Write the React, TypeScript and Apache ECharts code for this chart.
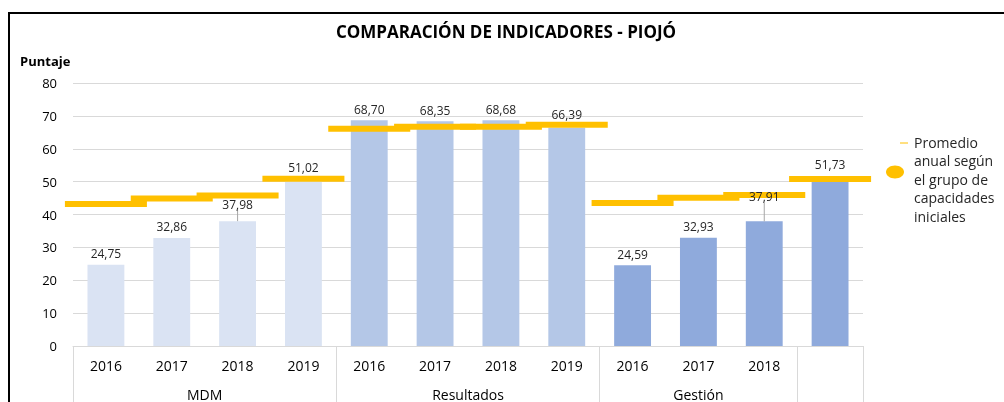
import { useEffect, useRef } from "react";
import * as echarts from "echarts";

const years = ["2016", "2017", "2018", "2019", "2016", "2017", "2018", "2019", "2016", "2017", "2018", ""];
const groupNames = ["MDM", "Resultados", "Gestión"];
const groupSizes = [4, 4, 3, 1];
const scores = [24.75, 32.86, 37.98, 51.02, 68.7, 68.35, 68.68, 66.39, 24.59, 32.93, 37.91, 51.73];
const groupAverage = [43.2, 44.9, 45.8, 50.9, 66.1, 66.7, 66.7, 67.3, 43.5, 45.1, 45.9, 50.8];
const groupColors = ["#DAE3F3", "#B4C7E7", "#8FAADC", "#8FAADC"];
const yTicks = [0, 10, 20, 30, 40, 50, 60, 70, 80];

const FONT = "'Open Sans', 'Noto Sans', sans-serif";

export default function App() {
  const ref = useRef<HTMLDivElement>(null);

  useEffect(() => {
    if (!ref.current) return;
    const chart = echarts.init(ref.current, undefined, { renderer: "svg" });

    const boundaries: number[] = [];
    const centres: number[] = [];
    let acc = 0;
    groupSizes.forEach((s) => {
      boundaries.push(acc);
      centres.push(acc + s / 2);
      acc += s;
    });
    const colorOf = (i: number) => {
      let a = 0;
      for (let g = 0; g < groupSizes.length; g++) {
        if (i < a + groupSizes[g]) return groupColors[g];
        a += groupSizes[g];
      }
      return groupColors[groupColors.length - 1];
    };
    const fmt = (v: number) => v.toFixed(2).replace(".", ",");
    const leaderIdx = [2, 10];

    chart.setOption({
      animation: false,
      textStyle: { fontFamily: FONT },
      title: {
        text: "COMPARACIÓN DE INDICADORES - PIOJÓ",
        left: "center",
        top: 15,
        padding: [0, 0, 0, 8],
        textStyle: { fontFamily: FONT, fontSize: 17, fontWeight: "bold", color: "#000" },
      },
      grid: { left: 65, right: 141, top: 75, bottom: 56 },
      xAxis: [
        {
          type: "category",
          data: years,
          axisLine: { lineStyle: { color: "#D9D9D9" } },
          axisTick: {
            show: true,
            interval: (index: number) => boundaries.includes(index),
            length: 70,
            lineStyle: { color: "#D9D9D9" },
          },
          axisLabel: { interval: 0, margin: 12, fontSize: 14, color: "#000", fontFamily: FONT },
        },
        {
          type: "value",
          position: "bottom",
          min: 0,
          max: 12,
          interval: 0.5,
          axisLine: { show: false },
          axisTick: { show: false },
          splitLine: { show: false },
          axisLabel: {
            margin: 41,
            fontSize: 14,
            color: "#000",
            fontFamily: FONT,
            showMinLabel: true,
            showMaxLabel: true,
            formatter: (v: number) => {
              const k = centres.findIndex((c) => Math.abs(c - v) < 1e-6);
              return k >= 0 && k < groupNames.length ? groupNames[k] : "";
            },
          },
        },
      ],
      yAxis: {
        type: "value",
        min: yTicks[0],
        max: yTicks[yTicks.length - 1],
        interval: 10,
        axisLine: { show: false },
        axisTick: { show: false },
        splitLine: { lineStyle: { color: "#D9D9D9" } },
        axisLabel: { margin: 16, fontSize: 13, color: "#000", fontFamily: FONT },
      },
      series: [
        {
          type: "bar",
          name: "Puntaje",
          barWidth: "56%",
          barGap: "-100%",
          z: 2,
          data: scores.map((v, i) => ({ value: v, itemStyle: { color: colorOf(i) } })),
          label: { show: false },
        },
        {
          type: "scatter",
          name: "Promedio anual según el grupo de capacidades iniciales",
          symbol: "rect",
          symbolSize: [82, 6],
          z: 3,
          itemStyle: { color: "#FFC000", opacity: 1 },
          data: groupAverage,
        },
        {
          type: "bar",
          name: "etiquetas",
          barWidth: "56%",
          barGap: "-100%",
          z: 4,
          silent: true,
          itemStyle: { color: "rgba(0,0,0,0)" },
          data: scores.map((v, i) => ({
            value: v,
            labelLine: { show: leaderIdx.includes(i) },
          })),
          label: {
            show: true,
            position: "top",
            distance: 5,
            fontSize: 12,
            color: "#262626",
            fontFamily: FONT,
            formatter: (p: any) => fmt(p.value),
          },
          labelLine: { show: false, lineStyle: { color: "#A6A6A6", width: 1 } },
          labelLayout: (p: any) => {
            if (p.dataIndex === 2) return { dy: -6 };
            if (p.dataIndex === 10) return { dy: -14 };
            if (p.dataIndex === 7) return { dy: -2 };
            return {};
          },
        },
      ],
      graphic: [
        {
          type: "rect",
          silent: true,
          shape: { x: 1, y: 5, width: 1300, height: 700 },
          style: { fill: "none", stroke: "#000", lineWidth: 2 },
        },
        {
          type: "text",
          left: 12,
          top: 46,
          style: { text: "Puntaje", fontSize: 13, fontWeight: "bold", fill: "#000", fontFamily: FONT },
        },
        {
          type: "line",
          shape: { x1: 892, y1: 135, x2: 900, y2: 135 },
          style: { stroke: "#FFC000", lineWidth: 1 },
        },
        {
          type: "ellipse",
          shape: { cx: 887, cy: 164, rx: 9, ry: 6.5 },
          style: { fill: "#FFC000" },
        },
        {
          type: "text",
          x: 906,
          y: 125,
          style: {
            text: "Promedio\nanual según\nel grupo de\ncapacidades\niniciales",
            fontSize: 14,
            lineHeight: 18.5,
            fill: "#262626",
            fontFamily: FONT,
            verticalAlign: "top",
          },
        },
      ],
    });

    return () => chart.dispose();
  }, []);

  return (
    <div
      ref={ref}
      style={{ position: "fixed", left: 8, top: 8, width: 996, height: 394, overflow: "hidden" }}
    />
  );
}
